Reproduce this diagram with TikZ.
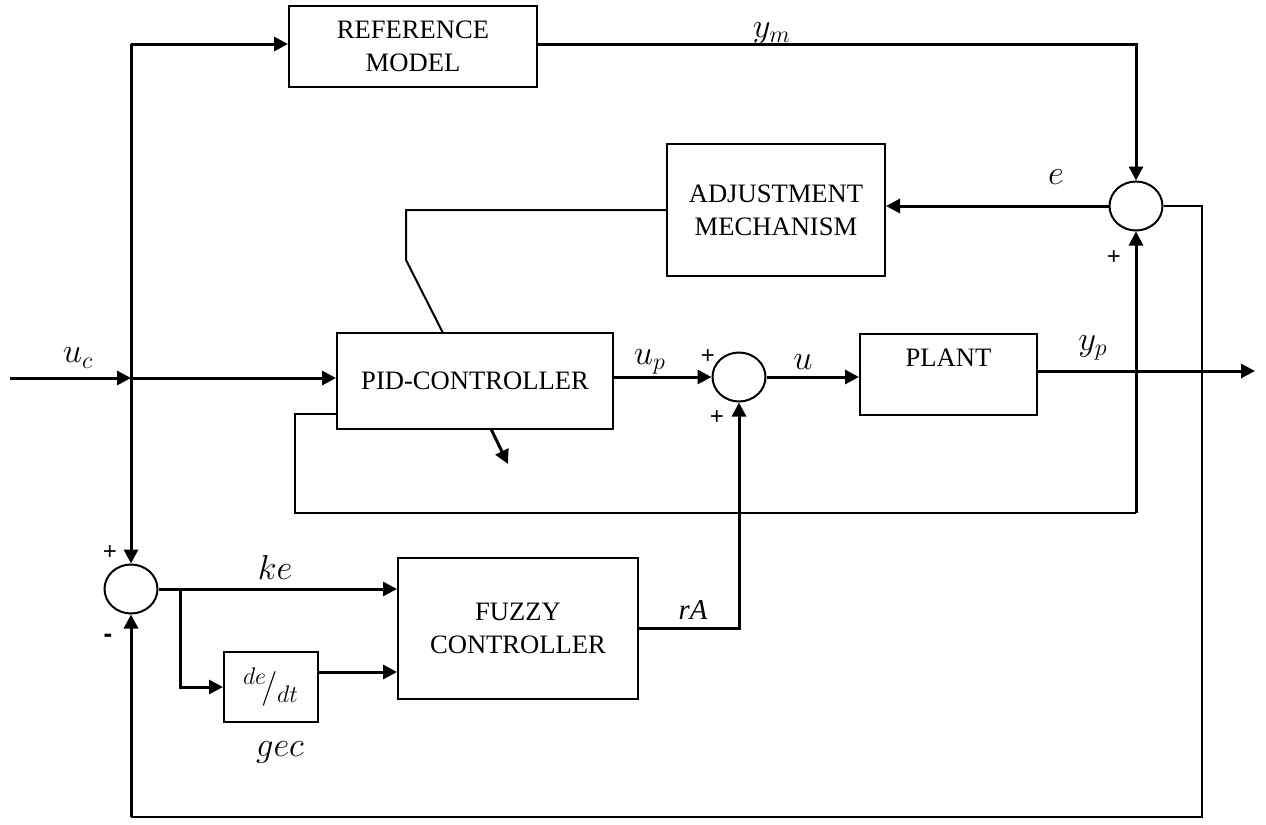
\documentclass[tikz,border=0pt]{standalone}
\usepackage{fontspec}
\setmainfont{Liberation Serif}
\newfontfamily\signfont{Liberation Sans}
\usetikzlibrary{arrows.meta,shapes.geometric}

\begin{document}
\begin{tikzpicture}[>={Triangle[length=7pt,width=7pt]},x=0.5pt,y=-0.5pt,
  blk/.style={draw,line width=1pt,inner sep=0pt,align=center,font=\fontsize{13.3}{16.5}\selectfont},
  sum/.style={draw,ellipse,line width=1pt,minimum width=26.5pt,minimum height=24.5pt,inner sep=0pt},
  sig/.style={line width=1.5pt},
  wire/.style={line width=1pt},
  lab/.style={font=\fontsize{17.28}{20}\selectfont},
  sgn/.style={font=\signfont\fontsize{12}{12}\selectfont}]
\useasboundingbox (0,0) rectangle (1266,825);
% blocks
\node[blk,minimum width=124pt,minimum height=40.5pt] (refm) at (413,46.5) {REFERENCE\\MODEL};
\node[blk,minimum width=109pt,minimum height=66pt] (adj) at (776,210) {ADJUSTMENT\\MECHANISM};
\node[blk,minimum width=138pt,minimum height=48pt] (pid) at (475,381) {PID-CONTROLLER};
\node[blk,minimum width=88.5pt,minimum height=40.5pt] (plant) at (948.5,374.5) {PLANT\\\mbox{}};
\node[blk,minimum width=120pt,minimum height=70.5pt] (fuzzy) at (518,628.5) {FUZZY\\CONTROLLER};
\node[blk,minimum width=47pt,minimum height=35pt,font=\fontsize{17.28}{20}\selectfont] (ddt) at (271,687) {$^{de}\!/_{dt}$};
% summing points
\node[sum] (sR) at (1136,206) {};
\node[sum] (sM) at (739,377) {};
\node[sum] (sL) at (131,589) {};
% junctions
\coordinate (in) at (10,378);
\coordinate (tap) at (131,378);
\coordinate (top) at (131,44);
\coordinate (out) at (1255,371);
\coordinate (kink) at (406,260);
\coordinate (kin) at (443,333);
\coordinate (tfrom) at (491,429);
\coordinate (tune) at (508,464);
\coordinate (lp) at (295,513);
\coordinate (fb) at (1202,817);
\coordinate (br) at (180,589);
\coordinate (dout) at ([yshift=7.5pt]ddt.east);
% connectors
\draw[sig,->] (in) -- (tap);
\draw[sig,->] (tap) -- (pid.west |- tap);
\draw[sig,->] (top) -- (refm.west |- top);
\draw[sig,->] (top) -- (sL.north);
\draw[sig,->] (refm.east |- top) -| (sR.north);
\draw[sig,->] (sR.west) -- (sR.west -| adj.east);
\draw[wire] (adj.west) -| (kink) -- (kin);
\draw[sig,->] (tfrom) -- (tune);
\draw[sig,->] (pid.east |- sM.west) -- (sM.west);
\draw[sig,->] (sM.east) -- (plant.west |- sM.east);
\draw[sig,->] (plant.east |- out) -- (out);
\draw[wire] ([yshift=-16.5pt]pid.west) -| (lp) -- (lp -| sR);
\draw[sig,->] (lp -| sR) -- (sR.south);
\draw[wire] (sR.east) -| (fb) -- (fb -| sL);
\draw[sig,->] (fb -| sL) -- (sL.south);
\draw[sig,->] (sL.east) -- (fuzzy.west |- sL.east);
\draw[sig,->] (br) |- (ddt.west);
\draw[sig,->] (dout) -- (fuzzy.west |- dout);
\draw[sig,->] (fuzzy.east) -| (sM.south);
% labels
\node[lab] (luc) at (78,358) {$u_c$};
\node[lab] (lym) at (772,33) {$y_m$};
\node[lab] (le) at (1056,177) {$e$};
\node[lab] (lup) at (650,362) {$u_p$};
\node[lab] (lu) at (803,362) {$u$};
\node[lab] (lyp) at (1093,348) {$y_p$};
\node[lab] (lke) at (275,567) {$ke$};
\node[lab] (lgec) at (280,752) {$gec$};
\node[font=\fontsize{14.4}{16}\selectfont] (lra) at (693,610) {\textit{rA}};
\foreach \x/\y/\nm in {1114/258/pR,708/357/pM,717/418/qM,110/553/pL}{\node[sgn] (\nm) at (\x,\y) {+};}
\node[sgn,font=\signfont\bfseries\fontsize{13}{13}\selectfont] (mL) at (108,638) {-};
\end{tikzpicture}
\end{document}
